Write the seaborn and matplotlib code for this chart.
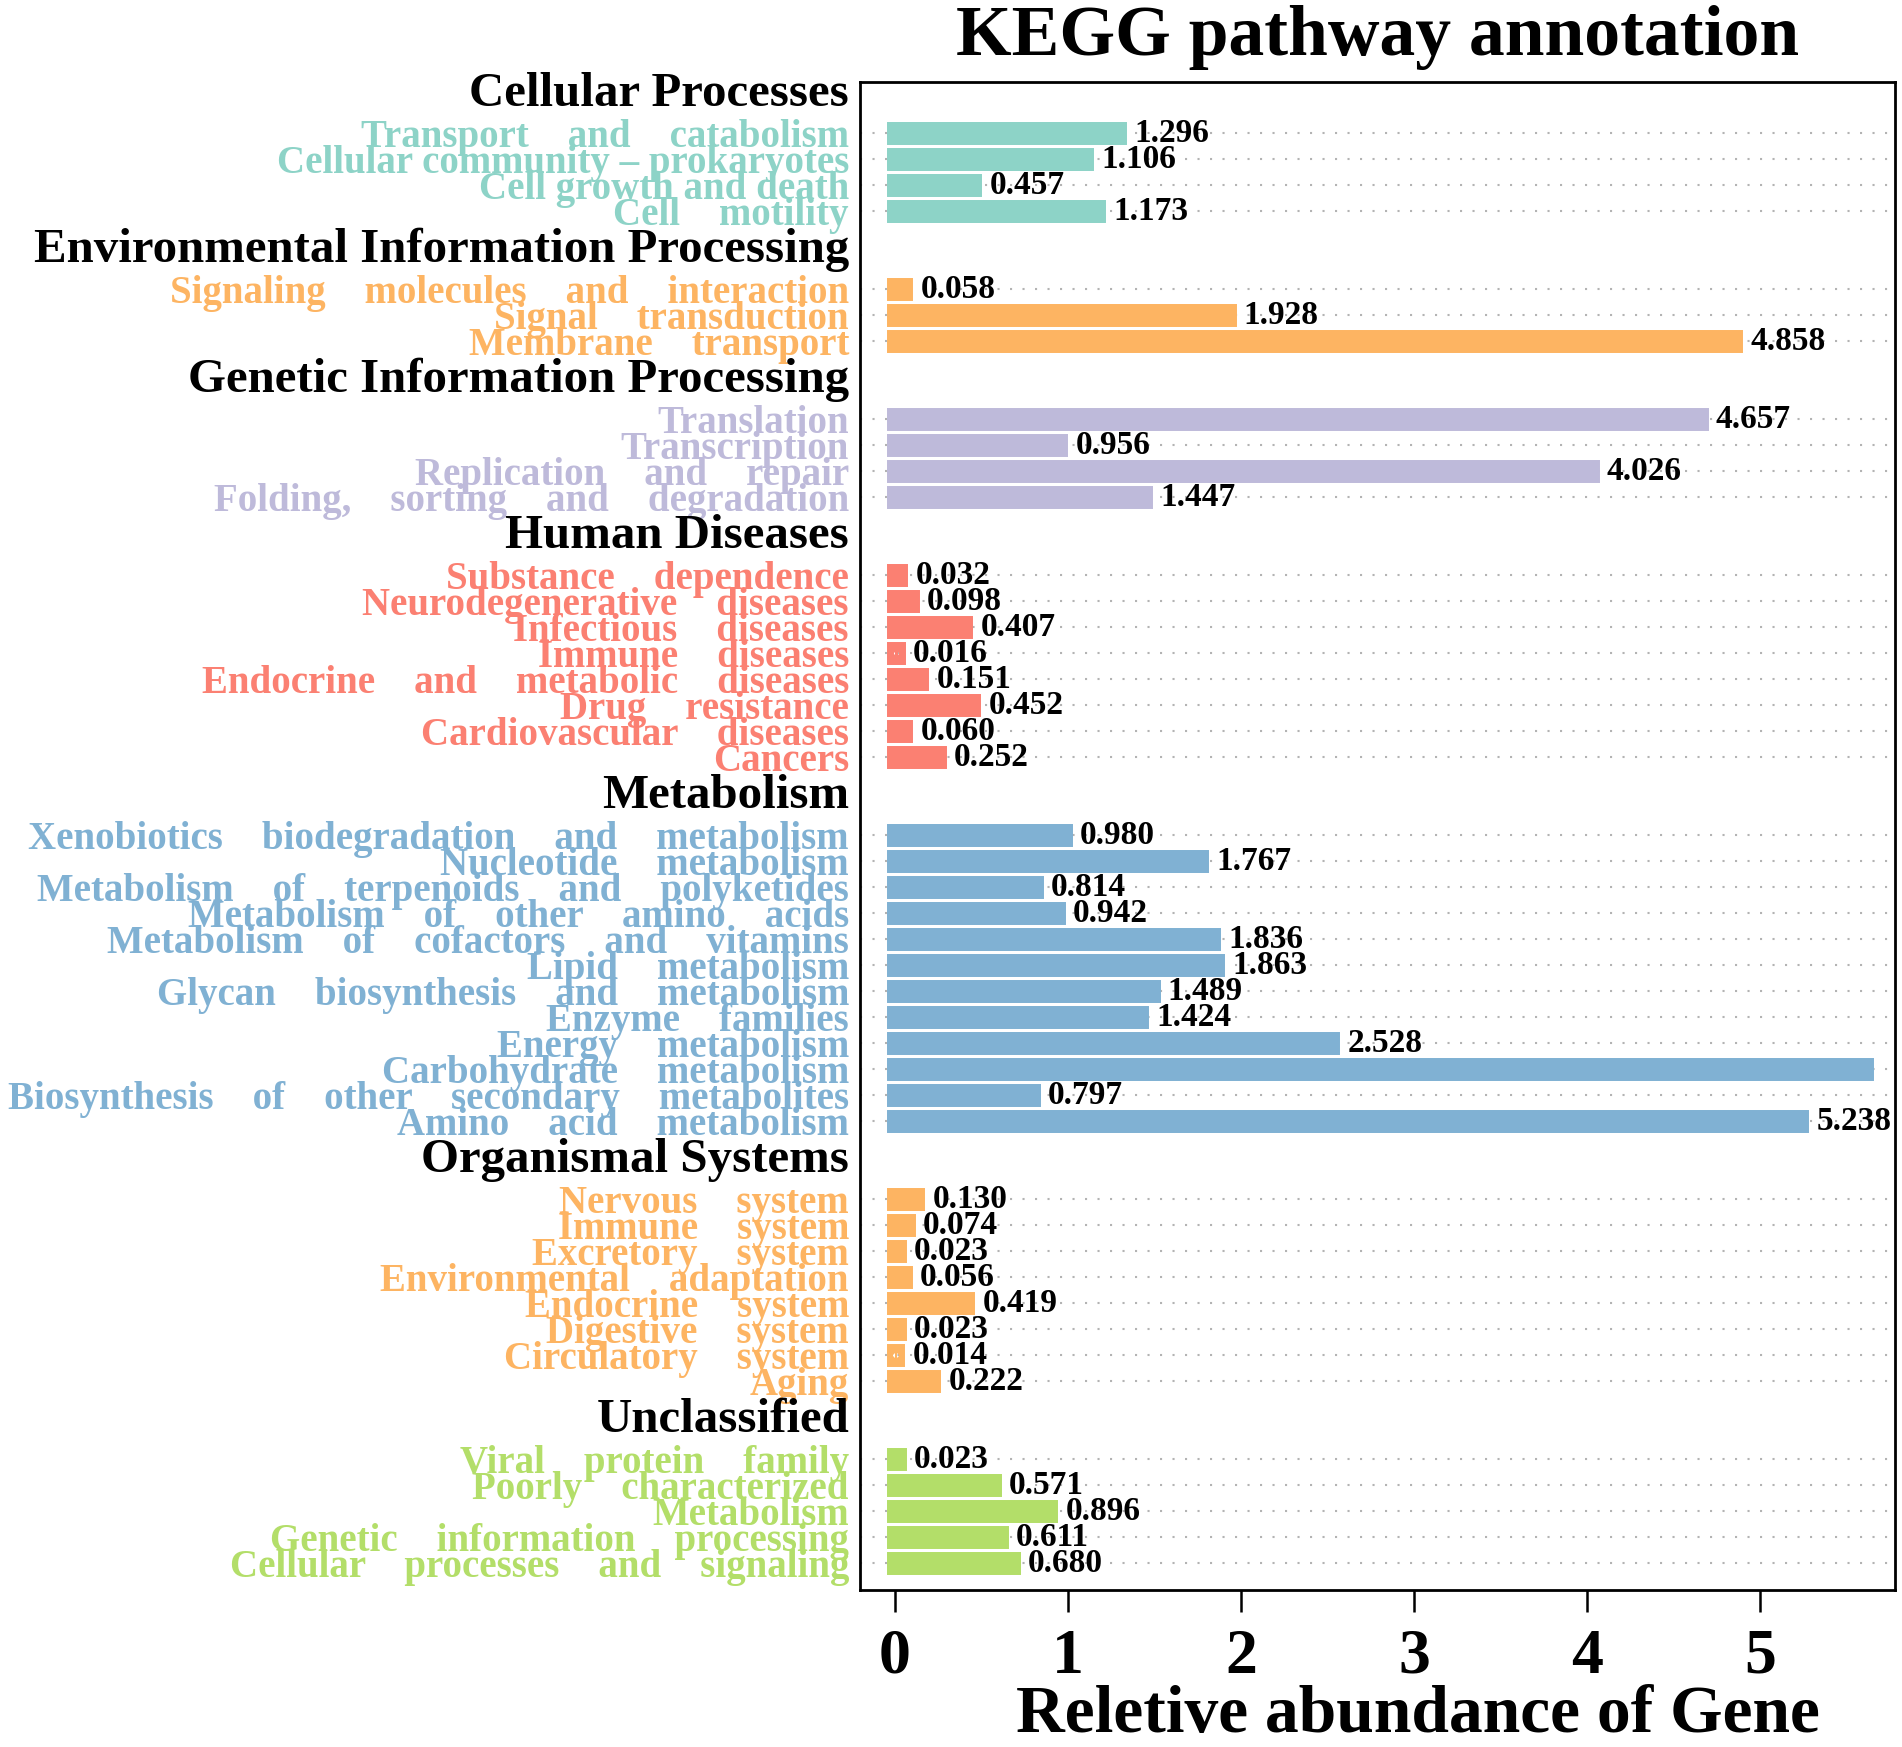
import matplotlib
matplotlib.use("Agg")
import matplotlib.pyplot as plt
import matplotlib.transforms as mtransforms
import seaborn as sns
import pandas as pd

# ---------------- data ----------------
title = "KEGG pathway annotation"
xlabel = "Reletive abundance of Gene"

groups = ["Cellular Processes", "Environmental Information Processing",
          "Genetic Information Processing", "Human Diseases", "Metabolism",
          "Organismal Systems", "Unclassified"]
group_colors = ["#8DD3C7", "#FDB462", "#BEBADA", "#FB8072", "#80B1D3",
                "#FDB462", "#B3DE69"]

cellular_labels = ["Transport    and    catabolism", "Cellular community \u2013 prokaryotes",
                   "Cell growth and death", "Cell    motility"]
cellular_values = [1.296, 1.106, 0.457, 1.173]

env_labels = ["Signaling    molecules    and    interaction", "Signal    transduction",
              "Membrane    transport"]
env_values = [0.058, 1.928, 4.858]

gen_labels = ["Translation", "Transcription", "Replication    and    repair",
              "Folding,    sorting    and    degradation"]
gen_values = [4.657, 0.956, 4.026, 1.447]

human_labels = ["Substance    dependence", "Neurodegenerative    diseases",
                "Infectious    diseases", "Immune    diseases",
                "Endocrine    and    metabolic    diseases", "Drug    resistance",
                "Cardiovascular    diseases", "Cancers"]
human_values = [0.032, 0.098, 0.407, 0.016, 0.151, 0.452, 0.060, 0.252]

metab_labels = ["Xenobiotics    biodegradation    and    metabolism", "Nucleotide    metabolism",
                "Metabolism    of    terpenoids    and    polyketides",
                "Metabolism    of    other    amino    acids",
                "Metabolism    of    cofactors    and    vitamins", "Lipid    metabolism",
                "Glycan    biosynthesis    and    metabolism", "Enzyme    families",
                "Energy    metabolism", "Carbohydrate    metabolism",
                "Biosynthesis    of    other    secondary    metabolites",
                "Amino    acid    metabolism"]
metab_values = [0.980, 1.767, 0.814, 0.942, 1.836, 1.863, 1.489, 1.424, 2.528, 5.61,
                0.797, 5.238]

org_labels = ["Nervous    system", "Immune    system", "Excretory    system",
              "Environmental    adaptation", "Endocrine    system", "Digestive    system",
              "Circulatory    system", "Aging"]
org_values = [0.130, 0.074, 0.023, 0.056, 0.419, 0.023, 0.014, 0.222]

uncl_labels = ["Viral    protein    family", "Poorly    characterized", "Metabolism",
               "Genetic    information    processing",
               "Cellular    processes    and    signaling"]
uncl_values = [0.023, 0.571, 0.896, 0.611, 0.680]

x_ticks = [0, 1, 2, 3, 4, 5]

group_labels = [cellular_labels, env_labels, gen_labels, human_labels,
                metab_labels, org_labels, uncl_labels]
group_values = [cellular_values, env_values, gen_values, human_values,
                metab_values, org_values, uncl_values]

# ---------------- build table ----------------
rows = []
first_pos = []
pos = 0
for g, labs, vals in zip(groups, group_labels, group_values):
    first_pos.append(pos)
    for lab, v in zip(labs, vals):
        rows.append({"group": g, "label": lab, "value": v, "pos": pos})
        pos += 1
    pos += 2  # blank slots for the group header
df = pd.DataFrame(rows)
palette = dict(zip(groups, group_colors))
df["color"] = df["group"].map(palette)

# ---------------- style ----------------
sns.set_style("white")
plt.rcParams["font.family"] = ["Liberation Serif", "DejaVu Serif"]
plt.rcParams["font.weight"] = "bold"
plt.rcParams["text.color"] = "black"
plt.rcParams["axes.labelcolor"] = "black"
plt.rcParams["xtick.color"] = "black"
plt.rcParams["ytick.color"] = "black"

W, H = 1902, 1747
fig = plt.figure(figsize=(W / 100, H / 100), dpi=100)
ax = fig.add_axes([860 / W, 1 - 1590 / H, 1035 / W, 1508 / H])

sns.barplot(data=df, x="value", y="pos", hue="group", hue_order=groups,
            palette=palette, orient="h", native_scale=True, dodge=False,
            width=0.28, saturation=1, errorbar=None, legend=False, ax=ax)

for p in ax.patches:
    p.set_edgecolor(p.get_facecolor())
    p.set_linewidth(11.5)
    p.set_joinstyle("miter")

xmin, xmax = -0.202, 5.78
ax.set_xlim(xmin, xmax)
ax.set_ylim(df["pos"].max() + 1.02, -1.98)

# y tick labels (pathways), coloured by group
ax.set_yticks(df["pos"])
ax.set_yticklabels(df["label"], fontsize=28, fontweight="bold")
for lbl, c in zip(ax.get_yticklabels(), df["color"]):
    lbl.set_color(c)
ax.tick_params(axis="y", length=0, pad=8)

# x ticks
ax.set_xticks(x_ticks)
ax.set_xticklabels([str(t) for t in x_ticks], fontsize=46, fontweight="bold",
                   color="black")
ax.tick_params(axis="x", direction="out", length=16, width=1.8, pad=12,
               colors="black", bottom=True)

# dotted row guides
ax.grid(axis="y", linestyle=(0, (1, 5)), color="#b3b3b3", linewidth=1.5)
ax.grid(axis="x", visible=False)
ax.set_axisbelow(True)

for s in ax.spines.values():
    s.set_visible(True)
    s.set_color("black")
    s.set_linewidth(2)

# value labels
for _, r in df.iterrows():
    if r["value"] < 5.5:
        ax.annotate(f"{r['value']:.3f}", xy=(r["value"], r["pos"]),
                    xytext=(11, 0), textcoords="offset points",
                    ha="left", va="center", fontsize=24, fontweight="bold",
                    color="black")

# group headers
trans = mtransforms.blended_transform_factory(ax.transAxes, ax.transData)
for g, fp in zip(groups, first_pos):
    ax.text(-0.0106, fp - 1.05, g, transform=trans, ha="right", va="baseline",
            fontsize=35.2, fontweight="bold", color="black", clip_on=False)

ax.set_ylabel("")
ax.set_title(title, fontsize=51.5, fontweight="bold", pad=19.4, color="black")
ax.set_xlabel(xlabel, fontsize=48.6, fontweight="bold", color="black")
ax.xaxis.label.set_va("baseline")
ax.xaxis.set_label_coords(0.539, -0.094)

fig.savefig("out.png", dpi=100)
